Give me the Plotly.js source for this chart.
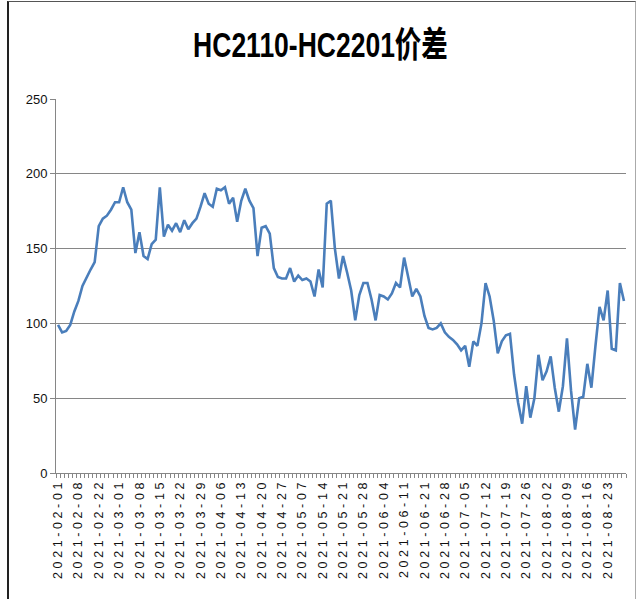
<!DOCTYPE html>
<html>
<head>
<meta charset="utf-8">
<script src="https://cdn.plot.ly/plotly-3.0.1.min.js"></script>
<style>
html,body{margin:0;padding:0;background:#fff;}
#wrap{position:relative;width:641px;height:599px;overflow:hidden;}
#chart{width:641px;height:599px;}
#frame{position:absolute;left:7px;top:1px;width:626px;height:640px;border-left:2px solid #222;border-top:1px solid #555;border-right:1px solid #aaa;pointer-events:none;}
.xtick text{letter-spacing:3.6px;}
.gtitle{transform-box:fill-box;transform-origin:center;transform:scaleY(1.35);}
</style>
</head>
<body>
<div id="wrap"><div id="chart"></div><div id="frame"></div></div>
<script>
// trading days (category axis)
const dates = [
"2021-02-01","2021-02-02","2021-02-03","2021-02-04","2021-02-05","2021-02-08","2021-02-09","2021-02-10","2021-02-18","2021-02-19",
"2021-02-22","2021-02-23","2021-02-24","2021-02-25","2021-02-26","2021-03-01","2021-03-02","2021-03-03","2021-03-04","2021-03-05",
"2021-03-08","2021-03-09","2021-03-10","2021-03-11","2021-03-12","2021-03-15","2021-03-16","2021-03-17","2021-03-18","2021-03-19",
"2021-03-22","2021-03-23","2021-03-24","2021-03-25","2021-03-26","2021-03-29","2021-03-30","2021-03-31","2021-04-01","2021-04-02",
"2021-04-06","2021-04-07","2021-04-08","2021-04-09","2021-04-12","2021-04-13","2021-04-14","2021-04-15","2021-04-16","2021-04-19",
"2021-04-20","2021-04-21","2021-04-22","2021-04-23","2021-04-26","2021-04-27","2021-04-28","2021-04-29","2021-04-30","2021-05-06",
"2021-05-07","2021-05-10","2021-05-11","2021-05-12","2021-05-13","2021-05-14","2021-05-17","2021-05-18","2021-05-19","2021-05-20",
"2021-05-21","2021-05-24","2021-05-25","2021-05-26","2021-05-27","2021-05-28","2021-05-31","2021-06-01","2021-06-02","2021-06-03",
"2021-06-04","2021-06-07","2021-06-08","2021-06-09","2021-06-10","2021-06-11","2021-06-15","2021-06-16","2021-06-17","2021-06-18",
"2021-06-21","2021-06-22","2021-06-23","2021-06-24","2021-06-25","2021-06-28","2021-06-29","2021-06-30","2021-07-01","2021-07-02",
"2021-07-05","2021-07-06","2021-07-07","2021-07-08","2021-07-09","2021-07-12","2021-07-13","2021-07-14","2021-07-15","2021-07-16",
"2021-07-19","2021-07-20","2021-07-21","2021-07-22","2021-07-23","2021-07-26","2021-07-27","2021-07-28","2021-07-29","2021-07-30",
"2021-08-02","2021-08-03","2021-08-04","2021-08-05","2021-08-06","2021-08-09","2021-08-10","2021-08-11","2021-08-12","2021-08-13",
"2021-08-16","2021-08-17","2021-08-18","2021-08-19","2021-08-20","2021-08-23","2021-08-24","2021-08-25","2021-08-26","2021-08-27"
];
// HC2110-HC2201 spread
const spread = [
99,94,95,99,108,115,125,131,136,141,
165,170,172,176,181,181,191,181,176,147,
161,145,143,153,156,191,158,166,162,167,
161,169,163,167,170,178,187,180,178,190,
189,191,180,184,168,182,190,182,177,145,
164,165,160,137,131,130,130,137,128,132,
129,130,128,118,136,124,180,182,150,130,
145,134,122,102,119,127,127,116,102,119,
118,116,120,127,124,144,132,118,123,118,
105,97,96,97,100,94,91,89,86,82,
85,71,88,85,100,127,118,102,80,88,
92,93,66,47,33,58,37,50,79,62,
68,78,57,41,58,90,55,29,50,51,
73,57,85,111,102,122,83,82,127,115
];
const tickLabels = [
"2021-02-01","2021-02-08","2021-02-22","2021-03-01","2021-03-08","2021-03-15","2021-03-22","2021-03-29","2021-04-06","2021-04-13",
"2021-04-20","2021-04-27","2021-05-07","2021-05-14","2021-05-21","2021-05-28","2021-06-04","2021-06-11","2021-06-21","2021-06-28",
"2021-07-05","2021-07-12","2021-07-19","2021-07-26","2021-08-02","2021-08-09","2021-08-16","2021-08-23"
];
const yTicks = [0,50,100,150,200,250];

const xIdx = dates.map((d,i)=>i);
const tickIdx = tickLabels.map(t=>dates.indexOf(t));

const trace = {
  x: xIdx, y: spread, type:'scatter', mode:'lines',
  line:{color:'#4a7ebb', width:2.6},
  text: dates, hoverinfo:'text+y'
};
const layout = {
  width:641, height:599,
  margin:{l:56, r:15, t:99, b:126},
  paper_bgcolor:'#ffffff', plot_bgcolor:'#ffffff',
  showlegend:false,
  title:{text:'HC2110-HC2201价差', x:0.5, xanchor:'center', y:0.925, yanchor:'middle',
    font:{family:'"Liberation Sans","Noto Sans CJK SC",sans-serif', size:26.5, color:'#000', weight:700}},
  xaxis:{
    range:[-0.5, dates.length-0.5],
    tickmode:'array', tickvals:tickIdx, ticktext:tickLabels,
    tickangle:-90, ticks:'', showgrid:false, zeroline:false,
    showline:true, linecolor:'#868686', linewidth:1,
    tickfont:{family:'"Liberation Sans",Arial,sans-serif', size:12.5, color:'#111'},
    minor:{tick0:-0.5, dtick:1, ticks:'outside', ticklen:4, tickcolor:'#868686', tickwidth:1, showgrid:false}
  },
  yaxis:{
    range:[0,250], tickmode:'array', tickvals:yTicks,
    showgrid:true, gridcolor:'#868686', gridwidth:1, zeroline:false,
    showline:true, linecolor:'#868686', linewidth:1,
    ticks:'outside', ticklen:5, tickcolor:'#868686',
    tickfont:{family:'"Liberation Sans",Arial,sans-serif', size:13, color:'#111'}
  }
};
Plotly.newPlot('chart',[trace],layout,{staticPlot:true, displayModeBar:false});
</script>
</body>
</html>
